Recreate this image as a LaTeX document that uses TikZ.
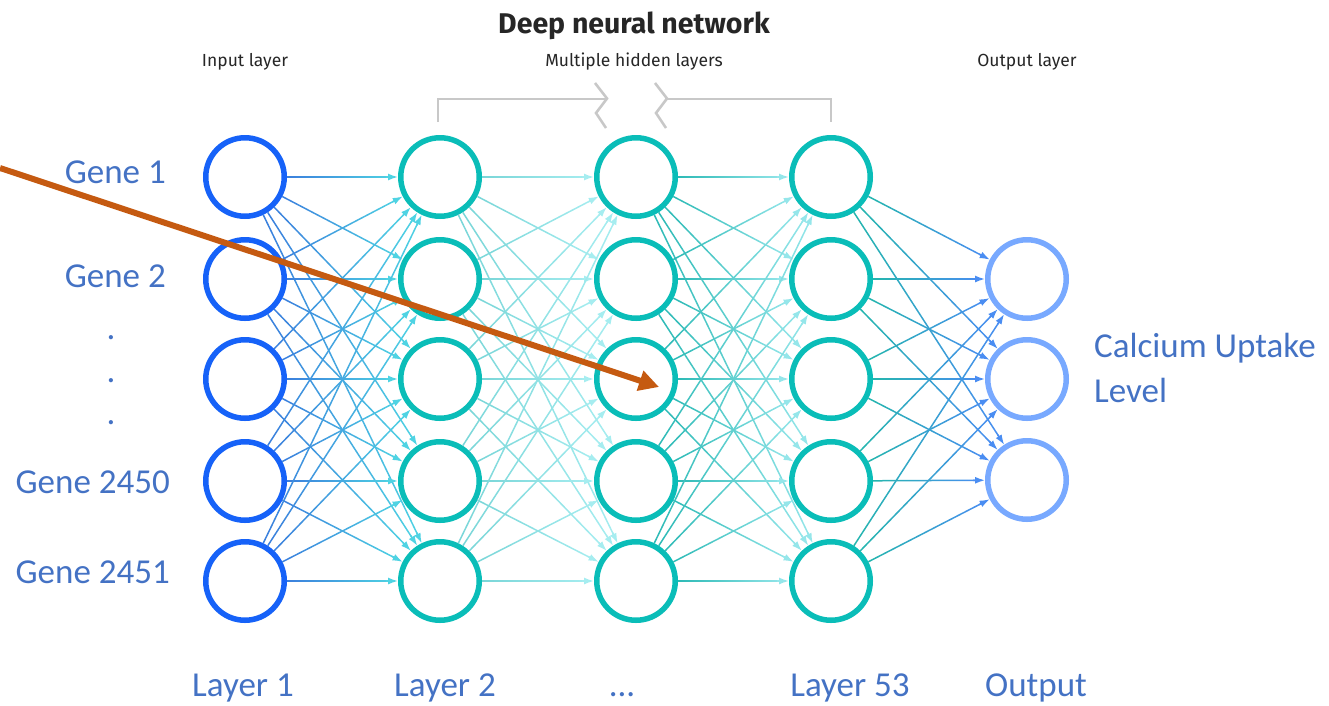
\documentclass[tikz,border=0pt]{standalone}
\usepackage{fontspec}
\setmainfont{Carlito}
\newfontfamily\headfont{Fira Sans}
\usetikzlibrary{arrows.meta,calc}

\definecolor{inblue}{HTML}{1662F8}
\definecolor{hidteal}{HTML}{0ABDB8}
\definecolor{outblue}{HTML}{78A9FF}
\definecolor{lblblue}{HTML}{4472C4}
\definecolor{hdrgray}{HTML}{262626}
\definecolor{brgray}{HTML}{C8C8C8}
\definecolor{pointer}{HTML}{C55A11}
% connector colours: start (source side) and end (target side)
\definecolor{eA1}{HTML}{3B7FDD}\definecolor{eA2}{HTML}{4FD3E3}
\definecolor{eB1}{HTML}{7AD6D8}\definecolor{eB2}{HTML}{A6EDF0}
\definecolor{eC1}{HTML}{2DBAB6}\definecolor{eC2}{HTML}{95E6EA}
\definecolor{eD1}{HTML}{25B6AE}\definecolor{eD2}{HTML}{4A8DF2}

% a connector whose colour runs from #3 at node #1 to #4 at node #2
\newcommand\linkedge[4]{%
  \path ($(#1.center)!42pt!(#2.center)$) coordinate (lkp)
        ($(#2.center)!46pt!(#1.center)$) coordinate (lkq);
  \shade[left color=#3, right color=#4]
    ($(lkp)!.75pt!90:(lkq)$) -- ($(lkq)!.75pt!-90:(lkp)$) --
    ($(lkq)!.75pt!90:(lkp)$) -- ($(lkp)!.75pt!-90:(lkq)$) -- cycle;
  \draw[#4, line width=1.5pt, -{Latex[length=10pt,width=7pt]}]
    ($(#2.center)!54pt!(#1.center)$) -- ($(#2.center)!42pt!(#1.center)$);
}

\tikzset{
  neuron/.style={circle, minimum size=78.5pt, line width=5.5pt, fill=white, inner sep=0pt},
  inneuron/.style={neuron, draw=inblue},
  hidneuron/.style={neuron, draw=hidteal},
  outneuron/.style={neuron, draw=outblue},
  bluetext/.style={text=lblblue, font=\fontsize{35}{42}\selectfont, inner sep=0pt},
  genelbl/.style={bluetext, anchor=base east},
  layerlbl/.style={bluetext, anchor=base},
  smallhead/.style={text=hdrgray, font=\headfont\fontsize{17.5}{21}\selectfont, anchor=base, inner sep=0pt},
  bracket/.style={brgray, line width=2pt},
  breakmark/.style={brgray, line width=2.6pt},
}

\begin{document}
\begin{tikzpicture}[x=1pt,y=-1pt]
\useasboundingbox (0,0) rectangle (1329,705);

% headings
\node[text=hdrgray, font=\headfont\bfseries\fontsize{28.5}{34}\selectfont, anchor=base, inner sep=0pt] (title) at (634,33) {Deep neural network};
\node[smallhead] (hin) at (245,66) {Input layer};
\node[smallhead] (hhid) at (634,66) {Multiple hidden layers};
\node[smallhead] (hout) at (1027,66) {Output layer};

% bracket over the hidden layers, with a break in the middle
\draw[bracket] (438,122) -- (438,99) -- (607,99);
\draw[bracket] (667,99) -- (831,99) -- (831,122);
\draw[breakmark, line join=miter] (595,83) -- (607,98.5) -- (596,113) -- (606,128);
\draw[breakmark, line join=miter] (655,83) -- (667,98.5) -- (656,113) -- (666,128);

% neurons
\foreach \r/\y in {1/177,2/279,3/379,4/481,5/581}{
  \node[inneuron]  (i\r) at (245,\y) {};
  \node[hidneuron] (a\r) at (440,\y) {};
  \node[hidneuron] (b\r) at (636,\y) {};
  \node[hidneuron] (c\r) at (831,\y) {};
}
\foreach \r/\y in {1/279,2/379,3/480}{
  \node[outneuron] (o\r) at (1027,\y) {};
}

% connectors between consecutive layers
\foreach \s in {1,...,5}{
  \foreach \t in {1,...,5}{
    \linkedge{i\s}{a\t}{eA1}{eA2}
    \linkedge{a\s}{b\t}{eB1}{eB2}
    \linkedge{b\s}{c\t}{eC1}{eC2}
  }
  \foreach \t in {1,2,3}{
    \linkedge{c\s}{o\t}{eD1}{eD2}
  }
}

% input labels
\node[genelbl] (g1) at (166,183) {Gene 1};
\node[genelbl] (g2) at (166,287) {Gene 2};
\node[bluetext, anchor=base] (d1) at (111,339) {.};
\node[bluetext, anchor=base] (d2) at (111,382) {.};
\node[bluetext, anchor=base] (d3) at (111,424) {.};
\node[genelbl] (g3) at (170,493) {Gene 2450};
\node[genelbl] (g4) at (170,583) {Gene 2451};

% output label
\node[bluetext, anchor=base west] (res) at (1094,357) {Calcium Uptake};
\node[bluetext, anchor=base west] (res2) at (1094,402) {Level};

% layer captions
\node[layerlbl] (l1) at (243,696) {Layer 1};
\node[layerlbl] (l2) at (445,696) {Layer 2};
\node[layerlbl] (l3) at (622,696) {...};
\node[layerlbl] (l4) at (850,696) {Layer 53};
\node[layerlbl] (l5) at (1036,696) {Output};

% pointer arrow into the middle hidden layer
\coordinate (ptrstart) at (0,168);
\coordinate (ptrend) at (659,387);
\draw[pointer, line width=6pt, -{Triangle[length=20pt,width=20pt]}] (ptrstart) -- (ptrend);
\end{tikzpicture}
\end{document}
